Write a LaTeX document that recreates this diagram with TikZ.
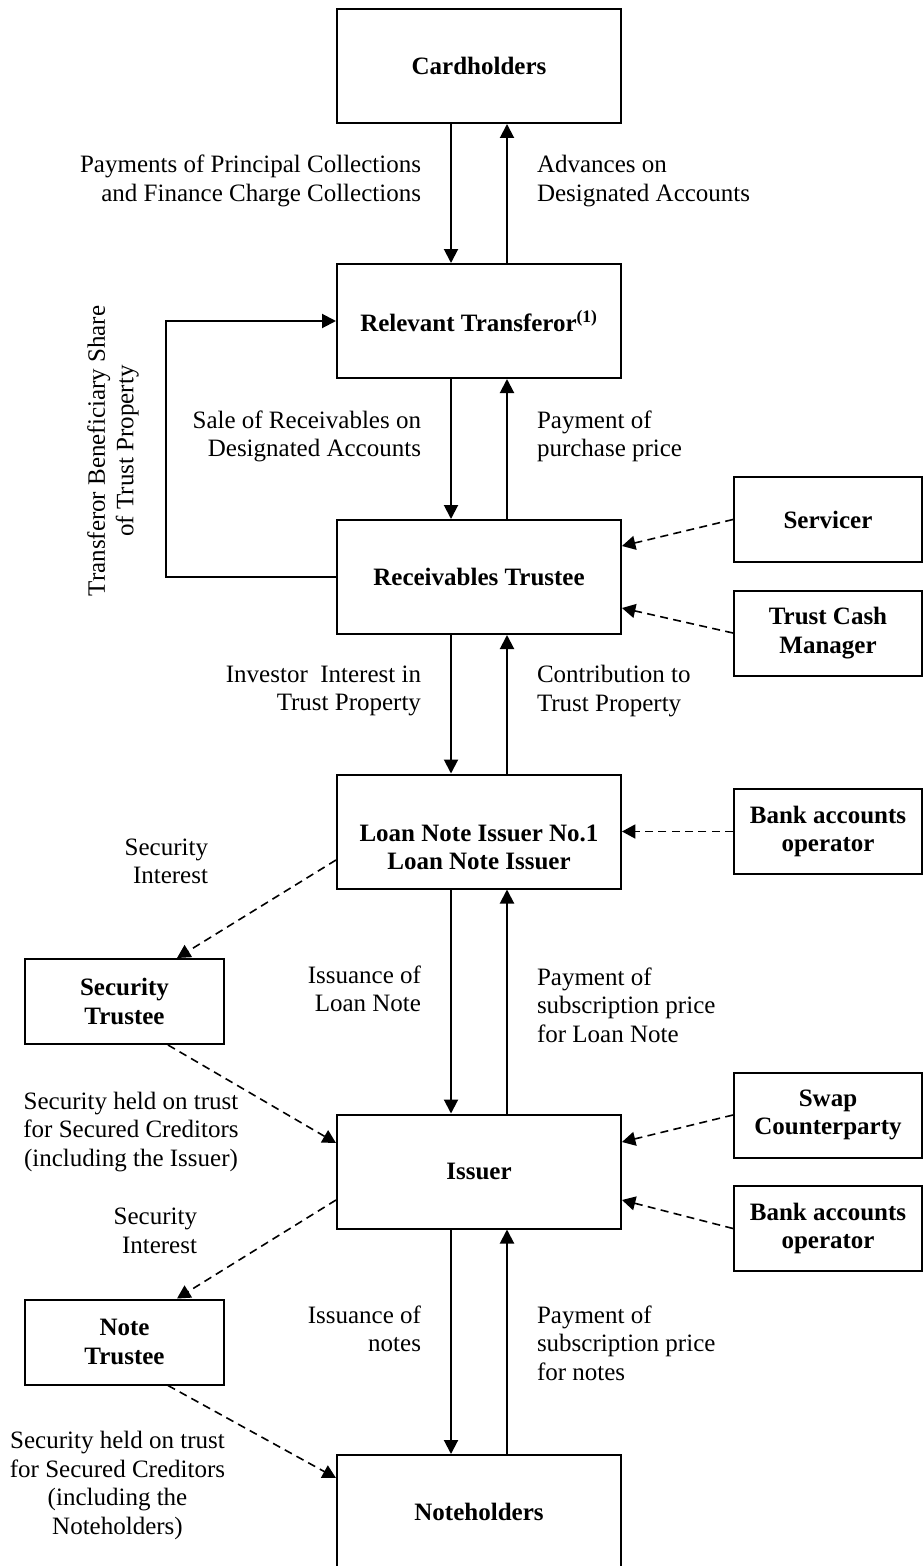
\documentclass[tikz,border=0pt]{standalone}
\usepackage{fontspec}
\setmainfont{Liberation Serif}
\usetikzlibrary{arrows.meta,calc}

\tikzset{every picture/.style={line width=1.5pt}}
\tikzset{
	party/.style={draw, minimum width=213pt, minimum height=85.5pt, inner sep=0pt, align=center, font=\bfseries\fontsize{18.75}{21.3}\selectfont},
	agent/.style={draw, minimum width=141pt, minimum height=63.75pt, inner sep=0pt, align=center, font=\bfseries\fontsize{18.75}{21.3}\selectfont},
	trustee/.style={draw, minimum width=149.25pt, minimum height=63.75pt, inner sep=0pt, align=center, font=\bfseries\fontsize{18.75}{21.3}\selectfont},
	lbl/.style={inner sep=0pt, font=\fontsize{18.75}{21.3}\selectfont},
	flow/.style={-{Triangle[length=10.5pt,width=10.5pt]}},
	link/.style={line width=1.2pt, dash pattern={on 6pt off 4pt}, -{Triangle[length=10pt,width=10.5pt]}}
}

\begin{document}
\begin{tikzpicture}[x=0.75pt,y=0.75pt,yscale=-1,xscale=1]
	\useasboundingbox (0,0) rectangle (923,1566);

	%Shape: Rectangle [main chain]
	\node[party] (card) at (479,66) {Cardholders};
	\node[party] (rt) at (479,321) {Relevant Transferor\textsuperscript{(1)}};
	\node[party] (rect) at (479,577) {Receivables Trustee};
	\node[party] (lni) at (479,831.5) {\strut\\Loan Note Issuer No.1\\Loan Note Issuer};
	\node[party] (issuer) at (479,1171.5) {Issuer};
	\node[party] (noteh) at (479,1512) {Noteholders};

	%Shape: Rectangle [right side]
	\node[agent] (servicer) at (828,519.5) {Servicer};
	\node[agent] (tcm) at (828,633) {Trust Cash\\Manager};
	\node[agent] (bankA) at (828,831.5) {Bank accounts\\operator};
	\node[agent] (swap) at (828,1115) {Swap\\Counterparty};
	\node[agent] (bankB) at (828,1228.5) {Bank accounts\\operator};

	%Shape: Rectangle [left side]
	\node[trustee] (sectr) at (124.5,1001.5) {Security\\Trustee};
	\node[trustee] (notetr) at (124.5,1342) {Note\\Trustee};

	%Straight Lines [down / up flows]
	\draw[flow] ($(card.south)+(-28,0)$) -- ($(rt.north)+(-28,0)$);
	\draw[flow] ($(rt.north)+(28,0)$) -- ($(card.south)+(28,0)$);
	\draw[flow] ($(rt.south)+(-28,0)$) -- ($(rect.north)+(-28,0)$);
	\draw[flow] ($(rect.north)+(28,0)$) -- ($(rt.south)+(28,0)$);
	\draw[flow] ($(rect.south)+(-28,0)$) -- ($(lni.north)+(-28,0)$);
	\draw[flow] ($(lni.north)+(28,0)$) -- ($(rect.south)+(28,0)$);
	\draw[flow] ($(lni.south)+(-28,0)$) -- ($(issuer.north)+(-28,0)$);
	\draw[flow] ($(issuer.north)+(28,0)$) -- ($(lni.south)+(28,0)$);
	\draw[flow] ($(issuer.south)+(-28,0)$) -- ($(noteh.north)+(-28,0)$);
	\draw[flow] ($(noteh.north)+(28,0)$) -- ($(issuer.south)+(28,0)$);

	%Straight Lines [transferor share loop]
	\draw[flow] (rect.west) -- ++(-170,0) |- (rt.west);

	%Dashed Lines [right side]
	\draw[link] (servicer.west) -- ($(rect.east)+(0,-31)$);
	\draw[link] (tcm.west) -- ($(rect.east)+(0,31)$);
	\draw[link] (bankA.west) -- (lni.east);
	\draw[link] (swap.west) -- ($(issuer.east)+(0,-29.5)$);
	\draw[link] (bankB.west) -- ($(issuer.east)+(0,28.5)$);

	%Dashed Lines [left side]
	\draw[link] ($(lni.west)+(0,28.5)$) -- ($(sectr.north)+(52.5,0)$);
	\draw[link] ($(sectr.south)+(43.5,0)$) -- ($(issuer.west)+(0,-28.5)$);
	\draw[link] ($(issuer.west)+(0,28.5)$) -- ($(notetr.north)+(52.5,0)$);
	\draw[link] ($(notetr.south)+(43.5,0)$) -- ($(noteh.west)+(0,-34)$);

	% Text Node
	\node[lbl, align=right, anchor=east] (paylbl) at (422,181) {Payments of Principal Collections\\and Finance Charge Collections};
	% Text Node
	\node[lbl, align=left, anchor=west] (advlbl) at (536,181) {Advances on\\Designated Accounts};
	% Text Node
	\node[lbl, align=right, anchor=east] (salelbl) at (422,436.5) {Sale of Receivables on\\Designated Accounts};
	% Text Node
	\node[lbl, align=left, anchor=west] (pricelbl) at (536,436.5) {Payment of\\purchase price};
	% Text Node
	\node[lbl, align=center, rotate=90] (sharelbl) at (113,451) {Transferor Beneficiary Share\\of Trust Property};
	% Text Node
	\node[lbl, align=right, anchor=east] (invlbl) at (422,691) {Investor\ \ Interest in\\Trust Property};
	% Text Node
	\node[lbl, align=left, anchor=west] (contlbl) at (536,691) {Contribution to\\Trust Property};
	% Text Node
	\node[lbl, align=right, anchor=east] (secAlbl) at (209,861.5) {Security\\Interest};
	% Text Node
	\node[lbl, align=right, anchor=east] (loanlbl) at (422,989) {Issuance of\\Loan Note};
	% Text Node
	\node[lbl, align=left, anchor=west] (subAlbl) at (536,1005) {Payment of\\subscription price\\for Loan Note};
	% Text Node
	\node[lbl, align=center] (heldAlbl) at (131,1132) {Security held on trust\\for Secured Creditors\\(including the Issuer)};
	% Text Node
	\node[lbl, align=right, anchor=east] (secBlbl) at (198,1231) {Security\\Interest};
	% Text Node
	\node[lbl, align=right, anchor=east] (noteslbl) at (422,1329) {Issuance of\\notes};
	% Text Node
	\node[lbl, align=left, anchor=west] (subBlbl) at (536,1343) {Payment of\\subscription price\\for notes};
	% Text Node
	\node[lbl, align=center] (heldBlbl) at (117.5,1485.5) {Security held on trust\\for Secured Creditors\\(including the\\Noteholders)};

\end{tikzpicture}
\end{document}
